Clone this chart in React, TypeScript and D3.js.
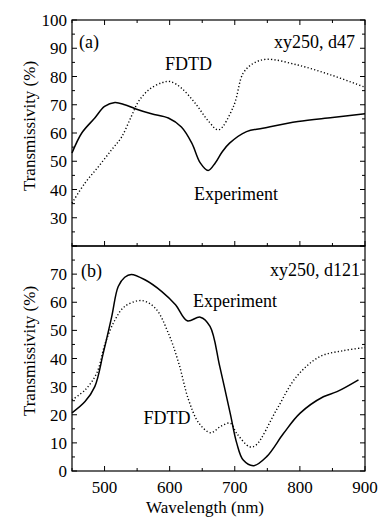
import React from "react";
import * as d3 from "d3";

// ---- Data ----
const expA_wl = [450, 465, 485, 500, 516, 531, 547, 572, 598, 618, 634, 647, 659, 670, 680, 692, 718, 743, 797, 850, 900];
const expA_val = [52.9, 60.0, 65.3, 69.4, 70.8, 70.0, 68.6, 66.8, 65.3, 62.1, 56.4, 49.4, 46.7, 49.4, 53.1, 56.4, 60.5, 61.7, 64.1, 65.5, 66.8];

const fdtdA_wl = [450, 470, 491, 511, 526, 541, 552, 568, 588, 601, 618, 639, 660, 675, 698, 713, 729, 749, 796, 847, 900];
const fdtdA_val = [35.2, 42.3, 48.2, 54.1, 58.5, 65.8, 71.1, 75.3, 77.8, 78.2, 75.9, 70.6, 64.1, 61.1, 69.4, 81.2, 84.7, 86.1, 84.1, 80.6, 76.2];

const expB_wl = [450, 470, 485, 498, 511, 521, 531, 541, 562, 588, 609, 627, 647, 662, 677, 693, 703, 713, 729, 749, 775, 800, 836, 857, 890];
const expB_val = [20.7, 24.7, 30.0, 41.9, 54.9, 65.6, 68.9, 69.9, 68.0, 63.8, 59.1, 53.4, 54.7, 51.4, 37.1, 20.5, 9.9, 3.9, 1.9, 5.1, 13.4, 20.5, 26.4, 28.2, 32.4];

const fdtdB_wl = [450, 470, 488, 501, 516, 531, 557, 578, 598, 614, 629, 645, 663, 678, 693, 703, 723, 733, 764, 795, 831, 867, 900];
const fdtdB_val = [25.3, 28.8, 34.8, 45.4, 53.7, 58.5, 60.6, 57.9, 49.0, 38.3, 25.3, 17.0, 13.6, 15.8, 17.0, 13.4, 8.6, 9.3, 21.7, 33.6, 40.7, 42.8, 43.9];

const xTicks = [500, 600, 700, 800, 900];
const yTicksA = [30, 40, 50, 60, 70, 80, 90, 100];
const yTicksB = [0, 10, 20, 30, 40, 50, 60, 70];

const FONT = "Liberation Serif, Times New Roman, Times, DejaVu Serif, serif";
const txt = (size: number): React.CSSProperties => ({ fontFamily: FONT, fontSize: size + "px" });

const L = 72, R = 365;
const x = d3.scaleLinear().domain([450, 900]).range([L, R]);

type PanelProps = {
  top: number; bottom: number; domain: [number, number];
  labels: number[];
  exp: [number[], number[]]; fdtd: [number[], number[]];
  topTicks: boolean;
};

function Panel({ top, bottom, domain, labels, exp, fdtd, topTicks }: PanelProps) {
  const y = d3.scaleLinear().domain(domain).range([bottom, top]);
  const line = d3.line<[number, number]>().x(d => x(d[0])).y(d => y(d[1])).curve(d3.curveCatmullRom.alpha(0.5));
  const expPts = exp[0].map((w, i) => [w, exp[1][i]] as [number, number]);
  const fdPts = fdtd[0].map((w, i) => [w, fdtd[1][i]] as [number, number]);
  const yMinor = d3.range(domain[0], domain[1] + 0.01, 5);
  const xMinor = d3.range(450, 901, 50);
  const els: React.ReactNode[] = [];
  yMinor.forEach((v, i) => {
    const len = v % 10 === 0 ? 5 : 3;
    els.push(<line key={"yl" + i} x1={L} x2={L + len} y1={y(v)} y2={y(v)} stroke="#000" strokeWidth={1} />);
    els.push(<line key={"yr" + i} x1={R} x2={R - len} y1={y(v)} y2={y(v)} stroke="#000" strokeWidth={1} />);
  });
  xMinor.forEach((v, i) => {
    const len = v % 100 === 0 ? 5 : 3;
    els.push(<line key={"xb" + i} x1={x(v)} x2={x(v)} y1={bottom} y2={bottom - len} stroke="#000" strokeWidth={1} />);
    if (topTicks) els.push(<line key={"xt" + i} x1={x(v)} x2={x(v)} y1={top} y2={top + len} stroke="#000" strokeWidth={1} />);
  });
  return (
    <g>
      <path d={line(fdPts) || ""} fill="none" stroke="#000" strokeWidth={1.4} strokeDasharray="1.2 2.2" />
      <path d={line(expPts) || ""} fill="none" stroke="#000" strokeWidth={1.5} />
      {els}
      {labels.map(v => (
        <text key={"lab" + v} x={67} y={y(v) + 6} textAnchor="end" style={txt(17)} fill="#000">{v}</text>
      ))}
      <rect x={L} y={top} width={R - L} height={bottom - top} fill="none" stroke="#000" strokeWidth={1.2} />
    </g>
  );
}

export default function App() {
  return (
    <svg width={386} height={518} style={{ position: "absolute", left: 0, top: 0, background: "#fff" }}>
      <rect x={0} y={0} width={386} height={518} fill="#fff" />
      <Panel top={20} bottom={246} domain={[20, 100]} labels={yTicksA}
        exp={[expA_wl, expA_val]} fdtd={[fdtdA_wl, fdtdA_val]} topTicks={true} />
      <Panel top={246} bottom={471} domain={[0, 80]} labels={yTicksB}
        exp={[expB_wl, expB_val]} fdtd={[fdtdB_wl, fdtdB_val]} topTicks={false} />
      {xTicks.map(v => (
        <text key={"xt" + v} x={x(v)} y={493} textAnchor="middle" style={txt(17)} fill="#000">{v}</text>
      ))}
      <text x={205} y={513} textAnchor="middle" style={txt(17)} fill="#000">Wavelength (nm)</text>
      <text transform="translate(35,126) rotate(-90)" textAnchor="middle" style={txt(17)} fill="#000">Transmissivity (%)</text>
      <text transform="translate(35,351) rotate(-90)" textAnchor="middle" style={txt(17)} fill="#000">Transmissivity (%)</text>
      <g style={txt(18)} fill="#000">
        <text x={79} y={48}>(a)</text>
        <text x={165} y={70}>FDTD</text>
        <text x={355} y={48} textAnchor="end">xy250, d47</text>
        <text x={194} y={200}>Experiment</text>
        <text x={81} y={276.5}>(b)</text>
        <text x={360} y={276} textAnchor="end">xy250, d121</text>
        <text x={193} y={306.5}>Experiment</text>
        <text x={143.5} y={424}>FDTD</text>
      </g>
    </svg>
  );
}
